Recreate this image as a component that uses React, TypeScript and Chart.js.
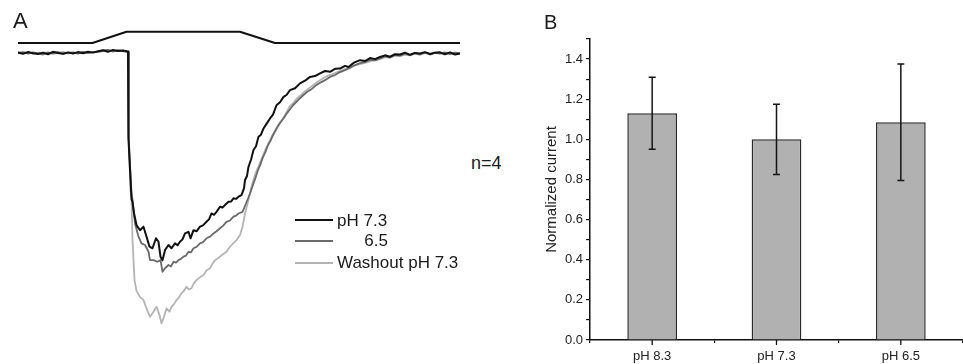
import React, { useEffect, useRef } from 'react';
import { Chart, registerables } from 'chart.js';
Chart.register(...registerables);

const FONT = 'Arial, "Liberation Sans", Helvetica, sans-serif';

// ---------- Panel A: current traces (time in s, current in nA) ----------
const tracePH73: number[][] = [
  [0,0.03],[0.1,-0.02],[0.2,0.04],[0.3,0],[0.4,-0.03],[0.5,0.02],[0.6,-0.04],[0.7,0.05],[0.8,0.01],[0.9,-0.02],[1.0,0.03],[1.1,-0.01],[1.2,0.04],[1.3,0],[1.4,0.05],[1.5,0.02],[1.6,0.07],[1.7,0.11],[1.8,0.05],[1.9,0.12],[2.0,0.08],[2.1,0.1],[2.2,0.06],
  [2.21,-3.2],[2.27,-5.4],[2.29,-5.51],[2.32,-5.93],[2.37,-6.37],[2.44,-6.56],[2.51,-6.43],[2.56,-6.74],[2.63,-7.17],[2.69,-7.23],[2.76,-6.86],[2.81,-6.99],[2.85,-7.54],[2.89,-7.67],[2.94,-7.3],[3.01,-7.11],[3.07,-7.23],[3.14,-7.05],[3.19,-7.12],[3.24,-6.99],[3.29,-6.9],[3.34,-6.68],[3.41,-6.62],[3.45,-6.86],[3.51,-6.56],[3.57,-6.6],[3.64,-6.43],[3.7,-6.38],[3.77,-6.25],[3.82,-6.16],[3.87,-5.94],[3.92,-5.99],[3.97,-5.88],[4.04,-5.69],[4.09,-5.72],[4.14,-5.63],[4.21,-5.51],[4.26,-5.5],[4.31,-5.38],[4.36,-5.4],[4.41,-5.32],[4.47,-5.26],[4.52,-5.01],[4.54,-4.7],[4.58,-4.55],[4.61,-4.21],[4.66,-3.95],[4.71,-3.59],[4.76,-3.45],[4.81,-3.1],[4.86,-3.02],[4.91,-2.79],[4.97,-2.62],[5.04,-2.42],[5.1,-2.28],[5.17,-1.93],[5.24,-1.82],[5.31,-1.62],[5.37,-1.55],[5.44,-1.37],[5.54,-1.3],[5.64,-1.12],[5.74,-1.02],[5.84,-0.88],[5.94,-0.85],[6.04,-0.75],[6.14,-0.66],[6.24,-0.69],[6.34,-0.58],[6.44,-0.57],[6.54,-0.47],[6.61,-0.51],[6.72,-0.35],[6.84,-0.26],[6.94,-0.29],[7.04,-0.18],[7.14,-0.22],[7.24,-0.14],[7.34,-0.08],[7.44,-0.13],[7.54,-0.04],[7.64,-0.05],[7.74,0.02],[7.84,-0.06],[7.94,0.01],[8.04,-0.01],[8.14,0.04],[8.24,-0.03],[8.34,0.02],[8.44,0.03],[8.54,-0.04],[8.64,0.03],[8.74,-0.05],[8.84,-0.01]
];

const tracePH65: number[][] = [
  [0,0.01],[0.1,0.04],[0.2,-0.02],[0.3,0.03],[0.4,-0.01],[0.5,-0.05],[0.6,0.02],[0.7,0],[0.8,0.04],[0.9,-0.03],[1.0,0.01],[1.1,0.03],[1.2,-0.02],[1.3,0.05],[1.4,0.01],[1.5,0.04],[1.6,0.06],[1.7,0.09],[1.8,0.12],[1.9,0.07],[2.0,0.1],[2.1,0.08],[2.2,0.05],
  [2.21,-3.0],[2.27,-5.2],[2.29,-5.44],[2.34,-6.31],[2.41,-6.8],[2.47,-7.05],[2.54,-7.11],[2.61,-7.36],[2.64,-7.67],[2.71,-7.67],[2.79,-7.73],[2.85,-7.67],[2.89,-8.1],[2.94,-7.97],[3.01,-7.85],[3.06,-7.9],[3.11,-7.73],[3.16,-7.76],[3.21,-7.67],[3.26,-7.62],[3.31,-7.54],[3.36,-7.5],[3.41,-7.36],[3.46,-7.38],[3.51,-7.23],[3.57,-7.18],[3.64,-7.05],[3.7,-7.0],[3.77,-6.86],[3.84,-6.8],[3.91,-6.68],[3.97,-6.6],[4.04,-6.49],[4.1,-6.4],[4.17,-6.25],[4.24,-6.2],[4.31,-6.06],[4.36,-6.02],[4.41,-5.94],[4.49,-5.88],[4.56,-5.57],[4.64,-5.2],[4.71,-4.83],[4.75,-4.62],[4.8,-4.33],[4.85,-4.12],[4.9,-3.85],[4.95,-3.66],[5.0,-3.41],[5.05,-3.25],[5.1,-3.04],[5.17,-2.8],[5.24,-2.59],[5.31,-2.42],[5.38,-2.22],[5.44,-2.08],[5.5,-1.93],[5.57,-1.8],[5.64,-1.67],[5.71,-1.55],[5.78,-1.44],[5.86,-1.35],[5.94,-1.22],[6.04,-1.1],[6.14,-1.0],[6.24,-0.88],[6.34,-0.81],[6.44,-0.7],[6.54,-0.63],[6.64,-0.55],[6.74,-0.44],[6.84,-0.37],[6.94,-0.33],[7.04,-0.25],[7.14,-0.27],[7.24,-0.19],[7.34,-0.12],[7.44,-0.16],[7.54,-0.07],[7.64,-0.09],[7.74,-0.02],[7.84,-0.07],[7.94,0.0],[8.04,-0.04],[8.14,0.02],[8.24,-0.05],[8.34,0.01],[8.44,-0.02],[8.54,0.03],[8.64,-0.04],[8.74,0.02],[8.84,0.0]
];

const traceWashout: number[][] = [
  [0,-0.02],[0.1,0.01],[0.2,0.05],[0.3,-0.03],[0.4,0.02],[0.5,0],[0.6,0.03],[0.7,-0.04],[0.8,0.02],[0.9,0.05],[1.0,-0.02],[1.1,0.01],[1.2,0],[1.3,0.03],[1.4,-0.01],[1.5,0.05],[1.6,0.04],[1.7,0.08],[1.8,0.1],[1.9,0.06],[2.0,0.11],[2.1,0.07],[2.2,0.04],
  [2.21,-3.0],[2.25,-5.1],[2.27,-5.32],[2.29,-6.93],[2.31,-7.67],[2.33,-8.41],[2.37,-8.81],[2.44,-9.03],[2.51,-9.15],[2.57,-9.46],[2.64,-9.77],[2.71,-9.58],[2.77,-9.4],[2.83,-9.7],[2.87,-10.01],[2.92,-9.77],[2.97,-9.46],[3.03,-9.58],[3.07,-9.4],[3.12,-9.3],[3.17,-9.15],[3.22,-9.05],[3.27,-8.9],[3.32,-8.8],[3.37,-8.66],[3.42,-8.76],[3.47,-8.71],[3.52,-8.52],[3.57,-8.41],[3.64,-8.3],[3.71,-8.22],[3.77,-8.05],[3.84,-7.97],[3.89,-7.8],[3.94,-7.67],[4.0,-7.6],[4.04,-7.54],[4.1,-7.45],[4.17,-7.36],[4.22,-7.22],[4.27,-7.11],[4.32,-7.02],[4.37,-6.93],[4.44,-6.74],[4.49,-6.43],[4.54,-5.94],[4.61,-5.44],[4.67,-4.95],[4.71,-4.68],[4.76,-4.41],[4.81,-4.2],[4.86,-3.96],[4.91,-3.75],[4.96,-3.52],[5.02,-3.3],[5.08,-3.07],[5.14,-2.88],[5.2,-2.67],[5.27,-2.5],[5.34,-2.3],[5.39,-2.12],[5.44,-1.96],[5.51,-1.83],[5.58,-1.67],[5.66,-1.55],[5.74,-1.41],[5.82,-1.3],[5.9,-1.19],[5.99,-1.06],[6.08,-0.96],[6.18,-0.85],[6.28,-0.78],[6.41,-0.68],[6.54,-0.59],[6.69,-0.48],[6.84,-0.41],[6.94,-0.36],[7.04,-0.3],[7.14,-0.26],[7.24,-0.22],[7.34,-0.15],[7.44,-0.17],[7.54,-0.09],[7.64,-0.11],[7.74,-0.05],[7.84,-0.08],[7.94,-0.02],[8.04,-0.06],[8.14,0.01],[8.24,-0.03],[8.34,0.03],[8.44,0.0],[8.54,-0.04],[8.64,0.02],[8.74,-0.03],[8.84,-0.02]
];

// solution exchange marker: 0 = control, 1 = test solution
const stimulus: number[][] = [[0,0],[1.49,0],[2.17,1],[4.44,1],[5.14,0],[8.84,0]];

const legendLabels = ['pH 7.3', '6.5', 'Washout pH 7.3'];

// ---------- Panel B: normalized current ----------
const phLabels = ['pH 8.3', 'pH 7.3', 'pH 6.5'];
const meanCurrent = [1.13, 1.0, 1.085];
const errCurrent = [0.18, 0.175, 0.29];

const toXY = (arr: number[][]) => arr.map(([x, y]) => ({ x, y }));

const errorBarPlugin = {
  id: 'errorBars',
  afterDatasetsDraw(chart: any) {
    const { ctx, scales } = chart;
    const x = scales.x, y = scales.y;
    ctx.save();
    ctx.strokeStyle = '#151515';
    ctx.lineWidth = 1.5;
    meanCurrent.forEach((m, i) => {
      const px = x.getPixelForValue(i);
      const top = y.getPixelForValue(m + errCurrent[i]);
      const bot = y.getPixelForValue(m - errCurrent[i]);
      ctx.beginPath();
      ctx.moveTo(px, top); ctx.lineTo(px, bot);
      ctx.moveTo(px - 3.5, top); ctx.lineTo(px + 3.5, top);
      ctx.moveTo(px - 3.5, bot); ctx.lineTo(px + 3.5, bot);
      ctx.stroke();
    });
    ctx.restore();
  },
};

const centerTickPlugin = {
  id: 'centerTicks',
  afterDraw(chart: any) {
    const { ctx, scales } = chart;
    const x = scales.x;
    ctx.save();
    ctx.strokeStyle = '#111';
    ctx.lineWidth = 1.3;
    phLabels.forEach((_, i) => {
      const px = x.getPixelForValue(i);
      ctx.beginPath();
      ctx.moveTo(px, x.top);
      ctx.lineTo(px, x.top + 5);
      ctx.stroke();
    });
    ctx.restore();
  },
};

function Txt(props: { x?: number; right?: number; baseline: number; size: number; children: any }) {
  const { x, right, baseline, size, children } = props;
  const style: any = {
    position: 'absolute',
    top: baseline - 0.8465 * size,
    fontSize: size,
    lineHeight: 1,
    whiteSpace: 'nowrap',
    color: '#1a1a1a',
    fontFamily: FONT,
  };
  if (right !== undefined) style.right = right; else style.left = x;
  return <div style={style}>{children}</div>;
}

export default function App() {
  const aRef = useRef<HTMLCanvasElement>(null);
  const bRef = useRef<HTMLCanvasElement>(null);

  useEffect(() => {
    const lineDs = (data: number[][], color: string, w: number, axis = 'y') => ({
      data: toXY(data),
      borderColor: color,
      borderWidth: w,
      pointRadius: 0,
      tension: 0,
      borderJoinStyle: 'round',
      fill: false,
      yAxisID: axis,
    });
    const chartA = new Chart(aRef.current as HTMLCanvasElement, {
      type: 'line',
      data: {
        datasets: [
          lineDs(tracePH73, '#111111', 2),
          lineDs(tracePH65, '#6a6a6a', 1.8),
          lineDs(traceWashout, '#b4b4b4', 1.8),
          lineDs(stimulus, '#111111', 2, 'yStim'),
        ] as any,
      },
      options: {
        responsive: false,
        animation: false,
        layout: { padding: { left: 18, right: 10, top: 10, bottom: 14 } },
        plugins: { legend: { display: false }, tooltip: { enabled: false } },
        scales: {
          x: { type: 'linear', display: false, min: 0, max: 8.84 },
          y: { type: 'linear', display: false, min: -11, max: 1.6 },
          yStim: { type: 'linear', display: false, min: -27.17, max: 2.92 },
        },
      } as any,
    });

    const chartB = new Chart(bRef.current as HTMLCanvasElement, {
      type: 'bar',
      data: {
        labels: phLabels,
        datasets: [
          {
            data: meanCurrent,
            backgroundColor: '#b1b1b1',
            borderColor: '#2b2b2b',
            borderWidth: 1.5,
            barPercentage: 0.4,
            categoryPercentage: 1,
          },
        ],
      },
      options: {
        responsive: false,
        animation: false,
        layout: { padding: { top: 39, right: 0, bottom: 0, left: 0 } },
        plugins: { legend: { display: false }, tooltip: { enabled: false } },
        scales: {
          x: {
            grid: { display: true, offset: true, drawOnChartArea: false, tickLength: 3, color: '#111', lineWidth: 1.2 },
            border: { display: true, color: '#111', width: 1.5 },
            ticks: { font: { family: FONT, size: 13 }, color: '#222', padding: 6, maxRotation: 0 },
            afterFit: (s: any) => { s.height = 24; },
          },
          y: {
            min: 0,
            max: 1.5,
            grid: { display: true, drawOnChartArea: false, tickLength: 4, color: '#111', lineWidth: 1.2 },
            border: { display: true, color: '#111', width: 1.5 },
            ticks: {
              stepSize: 0.1,
              autoSkip: false,
              padding: 3,
              color: '#222',
              font: { family: FONT, size: 13 },
              callback: (v: any) => {
                const k = Math.round(Number(v) * 10);
                return k % 2 === 0 ? (k / 10).toFixed(1) : '';
              },
            },
            title: {
              display: true,
              text: 'Normalized current',
              color: '#222',
              font: { family: FONT, size: 15 },
              padding: { top: 22.7, bottom: 0 },
            },
            afterFit: (s: any) => { s.width = 70; },
          },
        },
      } as any,
      plugins: [errorBarPlugin, centerTickPlugin],
    });

    return () => {
      chartA.destroy();
      chartB.destroy();
    };
  }, []);

  const legendRows = [
    { y: 220, color: '#111111', w: 2 },
    { y: 240.7, color: '#6a6a6a', w: 1.8 },
    { y: 263, color: '#b4b4b4', w: 1.8 },
  ];

  return (
    <div style={{ position: 'fixed', left: 0, top: 0, width: 963, height: 364, background: '#fff', overflow: 'hidden' }}>
      <canvas ref={aRef} width={470} height={364} style={{ position: 'absolute', left: 0, top: 0 }} />
      <canvas ref={bRef} width={443} height={364} style={{ position: 'absolute', left: 520, top: 0 }} />
      <Txt x={13} baseline={29} size={22}>A</Txt>
      <Txt x={544} baseline={29.3} size={20}>B</Txt>
      <Txt x={471} baseline={169} size={18}>n=4</Txt>
      {legendRows.map((r, i) => (
        <div key={i} style={{ position: 'absolute', left: 295, top: r.y - r.w / 2, width: 38, height: r.w, background: r.color }} />
      ))}
      <Txt x={337} baseline={226.5} size={17}>{legendLabels[0]}</Txt>
      <Txt right={963 - 388} baseline={246.7} size={17}>{legendLabels[1]}</Txt>
      <Txt x={337} baseline={268.8} size={17}>{legendLabels[2]}</Txt>
    </div>
  );
}
